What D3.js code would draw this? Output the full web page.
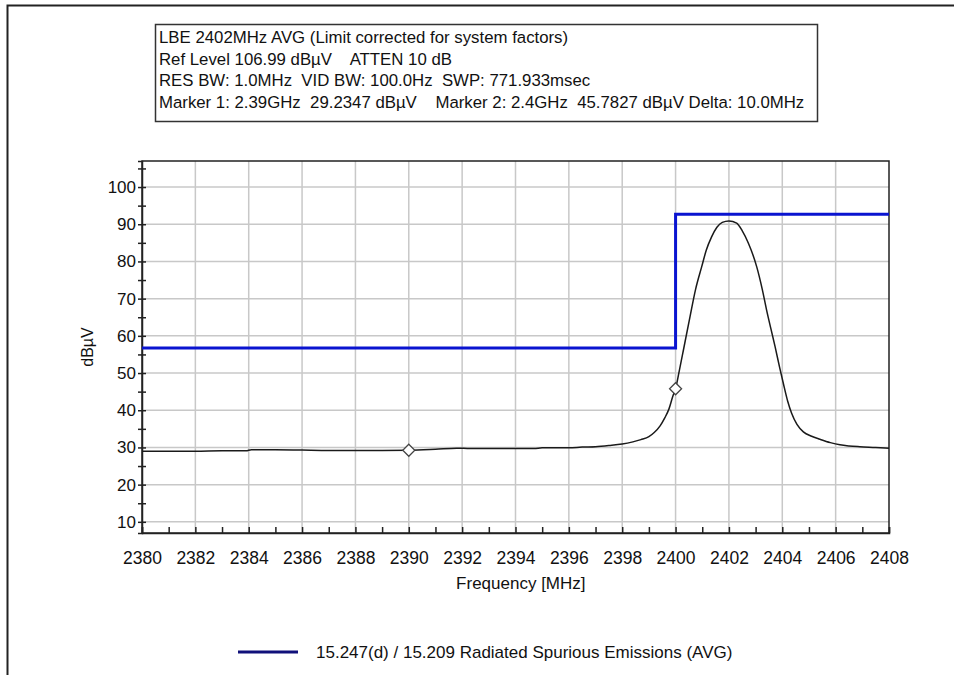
<!DOCTYPE html>
<html>
<head>
<meta charset="utf-8">
<script src="https://cdn.jsdelivr.net/npm/d3@7"></script>
<style>
  body { margin: 0; background: #fff; }
  svg { display: block; font-family: "Liberation Sans", Arial, sans-serif; }
</style>
</head>
<body>
<div class="visHolder"></div>
<script>
const w = 954, h = 675;

// header box text
const infoLines = [
  'LBE 2402MHz AVG (Limit corrected for system factors)',
  'Ref Level 106.99 dB\u00B5V    ATTEN 10 dB',
  'RES BW: 1.0MHz  VID BW: 100.0Hz  SWP: 771.933msec',
  'Marker 1: 2.39GHz  29.2347 dB\u00B5V    Marker 2: 2.4GHz  45.7827 dB\u00B5V Delta: 10.0MHz'
];

// measured trace (MHz, dBuV)
const traceFreq = [2380, 2381, 2382, 2383, 2383.9, 2384.1, 2385, 2386, 2387, 2388, 2389, 2390,
  2391, 2391.8, 2392.3, 2393, 2394, 2394.7, 2395, 2396, 2396.5, 2397, 2397.5, 2398, 2398.4,
  2398.7, 2399, 2399.2, 2399.42, 2399.6, 2399.75, 2399.9, 2400, 2400.15, 2400.3, 2400.54,
  2400.75, 2400.98, 2401.15, 2401.35, 2401.55, 2401.75, 2402, 2402.29, 2402.5, 2402.73,
  2403.04, 2403.25, 2403.41, 2403.57, 2403.73, 2403.9, 2404.04, 2404.2, 2404.35, 2404.55,
  2404.79, 2405.1, 2405.41, 2405.8, 2406.16, 2406.5, 2406.91, 2407.5, 2408];
const traceLevel = [29.0, 29.0, 29.0, 29.1, 29.1, 29.4, 29.4, 29.3, 29.2, 29.2, 29.2, 29.23,
  29.5, 29.8, 29.7, 29.7, 29.7, 29.7, 29.9, 29.9, 30.1, 30.2, 30.5, 30.9, 31.5,
  32.1, 32.9, 34.0, 35.8, 38.0, 40.3, 43.8, 45.78, 51.0, 56.4, 65.1,
  72.5, 78.6, 83.0, 86.6, 89.2, 90.5, 90.9, 90.3, 88.2, 84.9,
  78.6, 72.5, 67.0, 62.0, 57.1, 51.5, 47.2, 42.5, 39.2, 36.2,
  34.2, 33.0, 32.2, 31.3, 30.7, 30.4, 30.2, 30.0, 29.8];

// limit line (step after)
const limitFreq = [2380, 2400, 2408];
const limitLevel = [56.7, 92.7, 92.7];

const markerFreq = [2390, 2400];
const markerLevel = [29.2347, 45.7827];

const xTicks = d3.range(2380, 2409, 2);
const yTicks = d3.range(10, 101, 10);
const legendLabel = '15.247(d) / 15.209 Radiated Spurious Emissions (AVG)';

const plot = {left: 142, right: 889, top: 161, bottom: 533};

const svg = d3.select('.visHolder')
  .append('svg')
  .attr('width', w)
  .attr('height', h);

svg.append('rect').attr('width', w).attr('height', h).attr('fill', '#fff');

// outer frame (top and left edges only visible)
svg.append('path')
  .attr('d', `M7.5,${h} V5.5 H${w}`)
  .attr('fill', 'none')
  .attr('stroke', '#222')
  .attr('stroke-width', 2);

// info box
const info = svg.append('g');
info.append('rect')
  .attr('x', 155.5).attr('y', 24.5)
  .attr('width', 662).attr('height', 97)
  .attr('fill', '#fff')
  .attr('stroke', '#333')
  .attr('stroke-width', 1.5);
info.selectAll('text')
  .data(infoLines)
  .enter()
  .append('text')
  .attr('x', 159)
  .attr('y', (d, i) => 43 + i * 21.5)
  .attr('font-size', 16.8)
  .attr('fill', '#111')
  .style('white-space', 'pre')
  .text(d => d);

const xScale = d3.scaleLinear().domain([2380, 2408]).range([plot.left, plot.right]);
const yScale = d3.scaleLinear().domain([7, 107]).range([plot.bottom, plot.top]);

// grid
svg.append('g')
  .selectAll('line')
  .data(xTicks.slice(1, -1))
  .enter()
  .append('line')
  .attr('x1', d => xScale(d)).attr('x2', d => xScale(d))
  .attr('y1', plot.top).attr('y2', plot.bottom)
  .attr('stroke', '#c8c8c8').attr('stroke-width', 1.5);
svg.append('g')
  .selectAll('line')
  .data(yTicks)
  .enter()
  .append('line')
  .attr('x1', plot.left).attr('x2', plot.right)
  .attr('y1', d => yScale(d)).attr('y2', d => yScale(d))
  .attr('stroke', '#c8c8c8').attr('stroke-width', 1.5);

// frame
svg.append('rect')
  .attr('x', plot.left).attr('y', plot.top)
  .attr('width', plot.right - plot.left).attr('height', plot.bottom - plot.top)
  .attr('fill', 'none').attr('stroke', '#222').attr('stroke-width', 1.5);

// x axis: ticks every 1 MHz pointing up, labels every 2
const xAxis = d3.axisBottom(xScale)
  .tickValues(d3.range(2380, 2409, 1))
  .tickSize(-6)
  .tickPadding(19)
  .tickFormat(d => d % 2 === 0 ? d : '');
const gx = svg.append('g')
  .attr('id', 'x-axis')
  .attr('transform', `translate(0, ${plot.bottom})`)
  .call(xAxis);
gx.select('.domain').attr('stroke', '#222').attr('stroke-width', 1.5);
gx.selectAll('.tick line').attr('stroke', '#222').attr('stroke-width', 1.5);
gx.selectAll('.tick text')
  .attr('font-family', '"Liberation Sans", Arial, sans-serif')
  .attr('font-size', 17.5).attr('fill', '#111');

// y axis: ticks every 5 crossing the axis
const yAxis = d3.axisLeft(yScale)
  .tickValues(d3.range(10, 106, 5))
  .tickSize(4)
  .tickPadding(2)
  .tickFormat(d => d % 10 === 0 ? d : '');
const gy = svg.append('g')
  .attr('id', 'y-axis')
  .attr('transform', `translate(${plot.left}, 0)`)
  .call(yAxis);
gy.select('.domain').attr('stroke', '#222').attr('stroke-width', 1.5);
gy.selectAll('.tick line').attr('x1', 4).attr('stroke', '#222').attr('stroke-width', 1.5);
gy.selectAll('.tick text')
  .attr('font-family', '"Liberation Sans", Arial, sans-serif')
  .attr('font-size', 17).attr('fill', '#111');

// axis titles
svg.append('text')
  .attr('x', xScale(2394.2)).attr('y', 589)
  .attr('text-anchor', 'middle')
  .attr('font-size', 17).attr('fill', '#111')
  .text('Frequency [MHz]');
svg.append('text')
  .attr('transform', `translate(93, ${yScale(57)}) rotate(-90)`)
  .attr('text-anchor', 'middle')
  .attr('font-size', 16).attr('fill', '#111')
  .text('dB\u00B5V');

// limit line
const limitData = limitFreq.map((f, i) => ({f, v: limitLevel[i]}));
svg.append('path')
  .datum(limitData)
  .attr('fill', 'none')
  .attr('stroke', '#0a14d0')
  .attr('stroke-width', 3)
  .attr('d', d3.line()
    .curve(d3.curveStepAfter)
    .x(d => xScale(d.f))
    .y(d => yScale(d.v)));

// trace
const traceData = traceFreq.map((f, i) => ({f, v: traceLevel[i]}));
svg.append('path')
  .datum(traceData)
  .attr('fill', 'none')
  .attr('stroke', '#1a1a1a')
  .attr('stroke-width', 1.5)
  .attr('d', d3.line()
    .curve(d3.curveMonotoneX)
    .x(d => xScale(d.f))
    .y(d => yScale(d.v)));

// markers
svg.append('g')
  .selectAll('path')
  .data(markerFreq.map((f, i) => ({f, v: markerLevel[i]})))
  .enter()
  .append('path')
  .attr('transform', d => `translate(${xScale(d.f)}, ${yScale(d.v)})`)
  .attr('d', 'M0,-6 L6,0 L0,6 L-6,0 Z')
  .attr('fill', '#fff')
  .attr('stroke', '#444')
  .attr('stroke-width', 1.3);

// legend
svg.append('line')
  .attr('x1', 238).attr('x2', 298)
  .attr('y1', 652).attr('y2', 652)
  .attr('stroke', '#10107a').attr('stroke-width', 3);
svg.append('text')
  .attr('x', 316).attr('y', 658)
  .attr('font-size', 17).attr('fill', '#111')
  .text(legendLabel);
</script>
</body>
</html>
